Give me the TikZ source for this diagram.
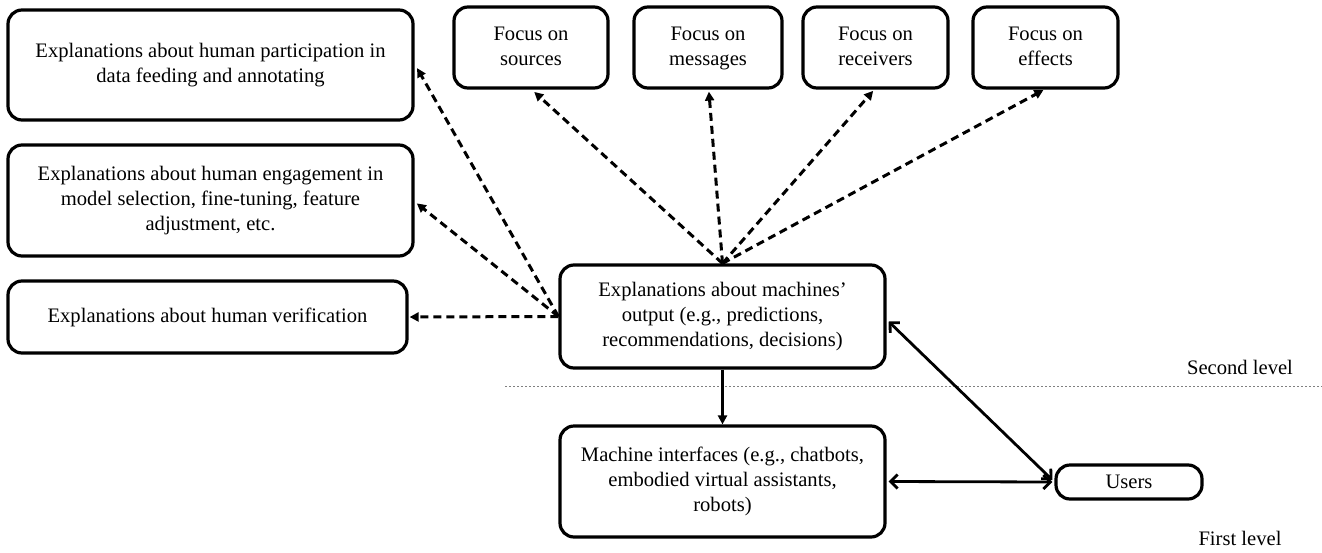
\documentclass[tikz,border=0pt]{standalone}
\usepackage{fontspec}
\setmainfont{Liberation Serif}
\usetikzlibrary{arrows.meta,calc}
\newcommand{\diagfont}{\fontsize{20.6}{25}\selectfont}
\begin{document}
\begin{tikzpicture}[x=1pt,y=-1pt,
  box/.style={draw, line width=3.2pt, rounded corners=14pt, align=center, font=\diagfont, inner sep=0pt},
  dasharrow/.style={line width=3pt, dash pattern=on 8pt off 5pt, -{Triangle[length=9pt,width=9pt]}, shorten >=-1pt},
  solidarrow/.style={line width=2.8pt, -{Triangle[length=9pt,width=9pt]}},
  biarrow/.style={line width=2.8pt, {Straight Barb[length=7pt,width=14pt,line width=2.8pt]}-{Straight Barb[length=7pt,width=14pt,line width=2.8pt]}},
  levelline/.style={draw=gray, line width=0.9pt, dash pattern=on 2pt off 2pt},
  lvl/.style={font=\diagfont, inner sep=0pt}
]
\useasboundingbox (0,0) rectangle (1322,552);

\node[box, minimum width=405pt, minimum height=110pt] (A) at (210.5,65) {Explanations about human participation in\\data feeding and annotating};
\node[box, minimum width=405pt, minimum height=111pt] (B) at (210.5,200.5) {Explanations about human engagement in\\model selection, fine-tuning, feature\\adjustment, etc.};
\node[box, minimum width=399pt, minimum height=72pt] (C) at (207.5,317) {Explanations about human verification};

\node[box, minimum width=154pt, minimum height=81pt] (S) at (531,47.5) {Focus on\strut\\sources\strut};
\node[box, minimum width=148pt, minimum height=81pt] (M) at (708,47.5) {Focus on\strut\\messages\strut};
\node[box, minimum width=145pt, minimum height=81pt] (R) at (875.5,47.5) {Focus on\strut\\receivers\strut};
\node[box, minimum width=145pt, minimum height=81pt] (Ef) at (1045.5,47.5) {Focus on\strut\\effects\strut};

\node[box, minimum width=325pt, minimum height=103pt] (D) at (722.5,316.5) {Explanations about machines’\\output (e.g., predictions,\\recommendations, decisions)};
\node[box, minimum width=325pt, minimum height=111pt] (E) at (722.5,481.5) {Machine interfaces (e.g., chatbots,\\embodied virtual assistants,\\robots)};
\node[box, minimum width=146pt, minimum height=34pt] (U) at (1129,482) {Users};

\node[lvl] (L2) at (1240,367) {Second level};
\node[lvl] (L1) at (1240,538) {First level};

\coordinate (dl) at (505,386);
\coordinate (dr) at (1322,386);
\draw[levelline] (dl) -- (dr);

\draw[dasharrow] (D.north) -- ($(S.south)+(4,3)$);
\draw[dasharrow] (D.north) -- ($(M.south)+(1,3)$);
\draw[dasharrow] (D.north) -- ($(R.south)+(-3,2)$);
\draw[dasharrow] (D.north) -- ($(Ef.south)+(-3,1)$);

\draw[dasharrow] (D.west) -- ($(A.east)+(3,4)$);
\draw[dasharrow] (D.west) -- ($(B.east)+(3,3.5)$);
\draw[dasharrow] (D.west) -- ($(C.east)+(2,0)$);

\draw[solidarrow] (D.south) -- (E.north);
\draw[biarrow] ($(D.east)+(2,5)$) -- ($(U.west)+(-2,-2)$);
\draw[biarrow] ($(E.east)+(2,0)$) -- ($(U.west)+(-2,0)$);
\end{tikzpicture}
\end{document}
